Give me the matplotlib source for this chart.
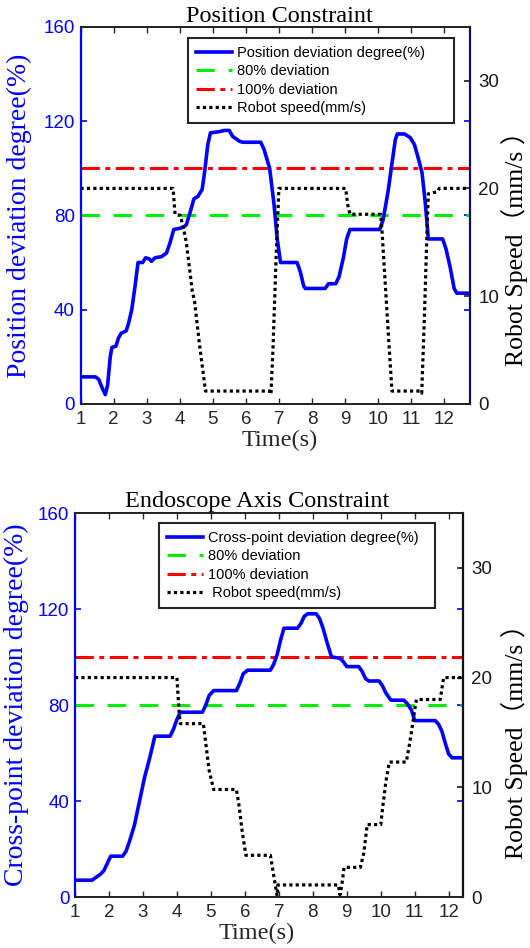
import matplotlib
matplotlib.use("Agg")
import matplotlib.pyplot as plt

plt.rcParams['font.family'] = ['Liberation Sans', 'DejaVu Sans']
plt.rcParams['font.size'] = 13.5

# ---------------- data: Position Constraint ----------------
t_pos_dev = [1.0, 1.45, 1.55, 1.65, 1.75, 1.82, 1.9, 1.95, 2.07, 2.15, 2.23, 2.38, 2.45, 2.55, 2.65, 2.74,
             2.88, 2.97, 3.08, 3.15, 3.25, 3.45, 3.6, 3.7, 3.82, 4.0, 4.12, 4.2, 4.33, 4.43, 4.55, 4.68,
             4.75, 4.85, 4.93, 5.2, 5.35, 5.5, 5.6, 5.8, 5.9, 6.45, 6.55, 6.72, 6.85, 6.95, 7.05, 7.55,
             7.65, 7.75, 7.8, 8.4, 8.5, 8.72, 8.82, 8.95, 9.05, 9.15, 10.05, 10.15, 10.3, 10.42, 10.52,
             10.58, 10.8, 10.97, 11.1, 11.22, 11.33, 11.43, 11.52, 11.95, 12.05, 12.18, 12.3, 12.38, 12.8]
pos_dev = [11.5, 11.5, 10.5, 7, 4, 8, 20, 24, 24.5, 28, 30, 31, 34, 40, 50, 60,
           60, 62, 61.5, 60.5, 62, 62.5, 64, 68, 74, 74.5, 75, 76, 82, 87, 88, 91,
           98, 110, 115, 115.5, 116, 116, 113.5, 111.5, 111, 111, 108, 100, 85, 70, 60, 60,
           56, 50, 49, 49, 51, 51, 54, 62, 70, 74, 74, 78, 90, 102, 112,
           114.5, 114.5, 113, 110, 104, 98, 85, 70, 70, 66, 58, 49, 47, 47]

t_pos_spd = [1.0, 3.8, 3.86, 4.02, 4.12, 4.2, 4.28, 4.38, 4.45, 4.6, 4.78, 6.73, 6.76, 6.82, 6.92, 7.0,
             9.02, 9.08, 9.15, 10.08, 10.12, 10.2, 10.32, 10.42, 11.28, 11.32, 11.4, 11.47, 11.52, 11.8,
             11.85, 12.8]
pos_spd = [20, 20, 17.6, 17.5, 16.2, 15, 13, 10.5, 9.5, 5.5, 1.2, 1.2, 0.9, 5, 14, 20,
           20, 18.5, 17.6, 17.6, 16, 12, 6, 1.2, 1.2, 1.0, 8, 15, 19.5, 19.7,
           20, 20]

# ---------------- data: Endoscope Axis Constraint ----------------
t_axis_dev = [1.0, 1.5, 1.6, 1.75, 1.85, 1.95, 2.05, 2.4, 2.5, 2.6, 2.75, 2.9, 3.05, 3.2, 3.35, 3.8,
              3.9, 4.0, 4.1, 4.75, 4.85, 4.95, 5.08, 5.75, 5.85, 5.95, 6.08, 6.75, 6.85, 6.95, 7.05,
              7.15, 7.55, 7.65, 7.75, 7.85, 8.1, 8.2, 8.3, 8.42, 8.55, 8.8, 8.9, 9.0, 9.35, 9.45, 9.55,
              9.65, 9.95, 10.05, 10.15, 10.3, 10.68, 10.78, 10.9, 11.0, 11.6, 11.7, 11.8, 11.9, 12.0,
              12.1, 12.42]
axis_dev = [7, 7, 8, 9.5, 11, 14, 17, 17, 19, 23, 30, 40, 50, 58, 67, 67,
            70, 74, 77, 77, 80, 84, 86, 86, 89, 93, 94.5, 94.5, 97, 101, 107,
            112, 112, 114, 117, 118, 118, 116, 112, 106, 100, 99.5, 98, 96, 96, 94, 91,
            90, 90, 88, 85, 82, 82, 80.5, 78, 73.5, 73.5, 72, 69, 64, 59.5,
            58, 58]

t_axis_spd = [1.0, 4.0, 4.06, 4.1, 4.78, 4.85, 4.95, 5.08, 5.75, 5.82, 5.92, 6.03, 6.75, 6.82, 6.9,
              6.95, 6.97, 8.75, 8.8, 8.85, 8.92, 9.4, 9.5, 9.6, 10.0, 10.05, 10.15, 10.25, 10.75,
              10.85, 10.95, 11.02, 11.05, 11.75, 11.85, 12.42]
axis_spd = [20, 20, 17, 15.8, 15.8, 14, 11.5, 9.8, 9.8, 8.5, 6, 3.8, 3.8, 2.5, 1.0,
            0.1, 1.1, 1.1, 0.2, 1.0, 2.7, 2.7, 4, 6.6, 6.6, 8, 10.5, 12.3, 12.3,
            14, 16, 17.5, 18, 18, 20, 20]

dev80 = 80
dev100 = 100

x_ticks = list(range(1, 13))
left_ticks = [0, 40, 80, 120, 160]
right_ticks = [0, 10, 20, 30]

SERIF = ['Liberation Serif', 'Noto Sans CJK SC', 'DejaVu Serif']

fig = plt.figure(figsize=(5.3, 9.48), dpi=100)


def panel(rect, title, title_x, title_pad, t_dev, dev, t_spd, spd, xmax, dev_label,
          ylabel, yl_x, yr_x, yr_y, xl_x, right_color, leg_anchor, spd_label):
    ax = fig.add_axes(rect)
    ax2 = ax.twinx()
    ax.set_xlim(1, xmax)
    ax.set_ylim(0, 160)
    ax2.set_ylim(0, 35)

    l1, = ax.plot(t_dev, dev, color='#0000ff', lw=2.6, solid_joinstyle='round', zorder=3)
    l2 = ax.axhline(dev80, color='#00ee00', lw=2.2, dashes=(6, 4.5), dash_capstyle='butt')
    l3 = ax.axhline(dev100, color='#ff0000', lw=2.2, dashes=(6, 1.8, 1.6, 1.8), dash_capstyle='butt')
    l4, = ax2.plot(t_spd, spd, color='black', lw=2.3, dashes=(1, 1), dash_capstyle='butt')

    ax.set_xticks(x_ticks)
    ax.set_yticks(left_ticks)
    ax2.set_yticks(right_ticks)

    ax.tick_params(axis='x', direction='in', top=True, length=4, width=1, colors='#262626',
                   labelsize=13.5, pad=5)
    ax.tick_params(axis='y', direction='in', right=True, length=4, width=1.2, colors='#0000ff',
                   labelsize=13.5, pad=4)
    ax2.tick_params(axis='y', direction='in', length=4, width=1.2, colors='#1a1a1a',
                    labelsize=13.5, pad=6)

    for s in ['top', 'bottom']:
        ax.spines[s].set_color('#262626')
        ax.spines[s].set_linewidth(1.4)
        ax2.spines[s].set_color('#262626')
        ax2.spines[s].set_linewidth(1.4)
    ax.spines['left'].set_color('#0000ff')
    ax.spines['left'].set_linewidth(1.6)
    ax2.spines['left'].set_visible(False)
    ax.spines['right'].set_visible(False)
    ax2.spines['right'].set_color(right_color)
    ax2.spines['right'].set_linewidth(1.6)

    ax.set_title(title, family=SERIF, fontsize=17.5, x=title_x, pad=title_pad)
    ax.set_ylabel(ylabel, family=SERIF, fontsize=20, color='#0000ff')
    ax.yaxis.set_label_coords(yl_x, 0.5)
    ax2.set_ylabel('Robot Speed（mm/s ）', family=SERIF, fontsize=18.5, color='black')
    ax2.yaxis.set_label_coords(yr_x, yr_y)
    ax.set_xlabel('Time(s)', family=SERIF, fontsize=17.5, color='#262626')
    ax.xaxis.set_label_coords(xl_x, -0.068)

    leg = ax2.legend([l1, l2, l3, l4],
                     [dev_label, '80% deviation', '100% deviation', spd_label],
                     loc='upper left', bbox_to_anchor=leg_anchor, fontsize=10.5,
                     handlelength=2.5, handletextpad=0.3, labelspacing=0.3,
                     borderpad=0.55, borderaxespad=0, fancybox=False, framealpha=1,
                     edgecolor='#262626')
    leg.get_frame().set_linewidth(1.5)
    return ax, ax2


W, H = 530.0, 948.0
# top panel: left 80.5, right 470, top 26.7, bottom 404 (pixels)
panel([80.5 / W, 1 - 404 / H, (470 - 80.5) / W, (404 - 26.7) / H],
      'Position Constraint', 0.512, 1.5,
      t_pos_dev, pos_dev, t_pos_spd, pos_spd, 12.78,
      'Position deviation degree(%)     ', 'Position deviation degree(%)',
      -0.125, 1.08, 0.43, 0.512, '#101060', (0.276, 0.970), 'Robot speed(mm/s)')

# bottom panel: left 75, right 463, top 513, bottom 897
panel([75 / W, 1 - 897 / H, (463 - 75) / W, (897 - 513) / H],
      'Endoscope Axis Constraint', 0.47, 4,
      t_axis_dev, axis_dev, t_axis_spd, axis_spd, 12.42,
      'Cross-point deviation degree(%)  ', 'Cross-point deviation degree(%)',
      -0.118, 1.097, 0.42, 0.469, '#111111', (0.216, 0.974), ' Robot speed(mm/s)')

fig.savefig('out.png', dpi=100)
